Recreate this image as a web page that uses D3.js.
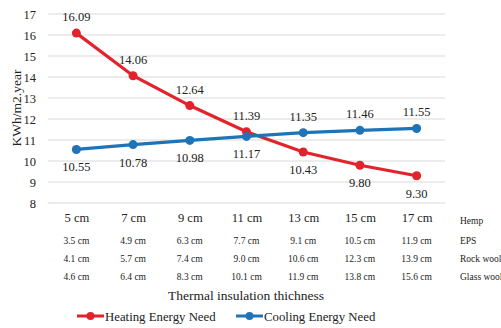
<!DOCTYPE html>
<html><head><meta charset="utf-8">
<script src="https://cdn.jsdelivr.net/npm/d3@7"></script>
<style>body{margin:0;background:#fff}svg{display:block}text{font-family:"Liberation Serif","Times New Roman",serif;fill:#222}</style>
</head><body><svg id="c" width="501" height="328"></svg>
<script>
const categories = ["5 cm","7 cm","9 cm","11 cm","13 cm","15 cm","17 cm"];
const heating = [16.09,14.06,12.64,11.39,10.43,9.80,9.30];
const cooling = [10.55,10.78,10.98,11.17,11.35,11.46,11.55];
const eps = ["3.5 cm","4.9 cm","6.3 cm","7.7 cm","9.1 cm","10.5 cm","11.9 cm"];
const rockWool = ["4.1 cm","5.7 cm","7.4 cm","9.0 cm","10.6 cm","12.3 cm","13.9 cm"];
const glassWool = ["4.6 cm","6.4 cm","8.3 cm","10.1 cm","11.9 cm","13.8 cm","15.6 cm"];
const rowNames = ["Hemp","EPS","Rock wool","Glass wool"];
const yTicks = [8,9,10,11,12,13,14,15,16,17];
const heatAbove = [true,true,true,true,false,false,false];
const coolAbove = [false,false,false,false,true,true,true];

const svg = d3.select("#c");
const L=48,R=445,T=14,B=203;
const x = d3.scalePoint().domain(categories).range([L,R]).padding(0.5);
const y = d3.scaleLinear().domain([8,17]).range([B,T]);

svg.append("g").selectAll("line").data(yTicks).join("line")
  .attr("x1",L).attr("x2",R).attr("y1",d=>y(d)).attr("y2",d=>y(d))
  .attr("stroke","#d9d9d9").attr("stroke-width",1);

const ya = svg.append("g").attr("transform",`translate(${L},0)`)
  .call(d3.axisLeft(y).tickValues(yTicks).tickSize(0).tickPadding(12));
ya.select(".domain").remove();
ya.selectAll("text").attr("font-size",12.5).style("font-family",'"Liberation Serif",serif').attr("fill","#222");

const xa = svg.append("g").attr("transform",`translate(0,${B})`)
  .call(d3.axisBottom(x).tickSize(0).tickPadding(10));
xa.select(".domain").remove();
xa.selectAll("text").attr("font-size",12.5).style("font-family",'"Liberation Serif",serif').attr("fill","#222");

const rows=[eps,rockWool,glassWool];
const rowY=[244,262,280];
rows.forEach((r,i)=>{
  svg.append("g").selectAll("text").data(r).join("text")
    .attr("x",(d,j)=>x(categories[j])).attr("y",rowY[i]).attr("text-anchor","middle")
    .attr("font-size",9.5).text(d=>d);
});
svg.append("g").selectAll("text").data(rowNames).join("text")
  .attr("x",460).attr("y",(d,i)=>[224,244,262,280][i]).attr("font-size",9.5).text(d=>d);

svg.append("text").attr("x",246).attr("y",300).attr("text-anchor","middle").attr("font-size",13.5).text("Thermal insulation thichness");
svg.append("text").attr("transform","translate(21,108) rotate(-90)").attr("text-anchor","middle").attr("font-size",13.5).text("KWh/m2.year");

const line = d3.line().x((d,i)=>x(categories[i])).y(d=>y(d));
function series(vals,color,above){
  svg.append("path").datum(vals).attr("d",line).attr("fill","none").attr("stroke",color).attr("stroke-width",3.2);
  svg.append("g").selectAll("circle").data(vals).join("circle")
    .attr("cx",(d,i)=>x(categories[i])).attr("cy",d=>y(d)).attr("r",4.5).attr("fill",color);
  svg.append("g").selectAll("text").data(vals).join("text")
    .attr("x",(d,i)=>x(categories[i])).attr("y",(d,i)=>y(d)+(above[i]?-12:22))
    .attr("text-anchor","middle").attr("font-size",12.5).text(d=>d.toFixed(2));
}
series(heating,"#e3232c",heatAbove);
series(cooling,"#1f74b8",coolAbove);

const leg=[{n:"Heating Energy Need",c:"#e3232c",x:77},{n:"Cooling Energy Need",c:"#1f74b8",x:236}];
const lg=svg.append("g").selectAll("g").data(leg).join("g").attr("transform",d=>`translate(${d.x},316)`);
lg.append("line").attr("x1",0).attr("x2",27).attr("stroke",d=>d.c).attr("stroke-width",3);
lg.append("circle").attr("cx",13.5).attr("r",4).attr("fill",d=>d.c);
lg.append("text").attr("x",28).attr("y",4.5).attr("font-size",12.8).text(d=>d.n);
</script></body></html>
